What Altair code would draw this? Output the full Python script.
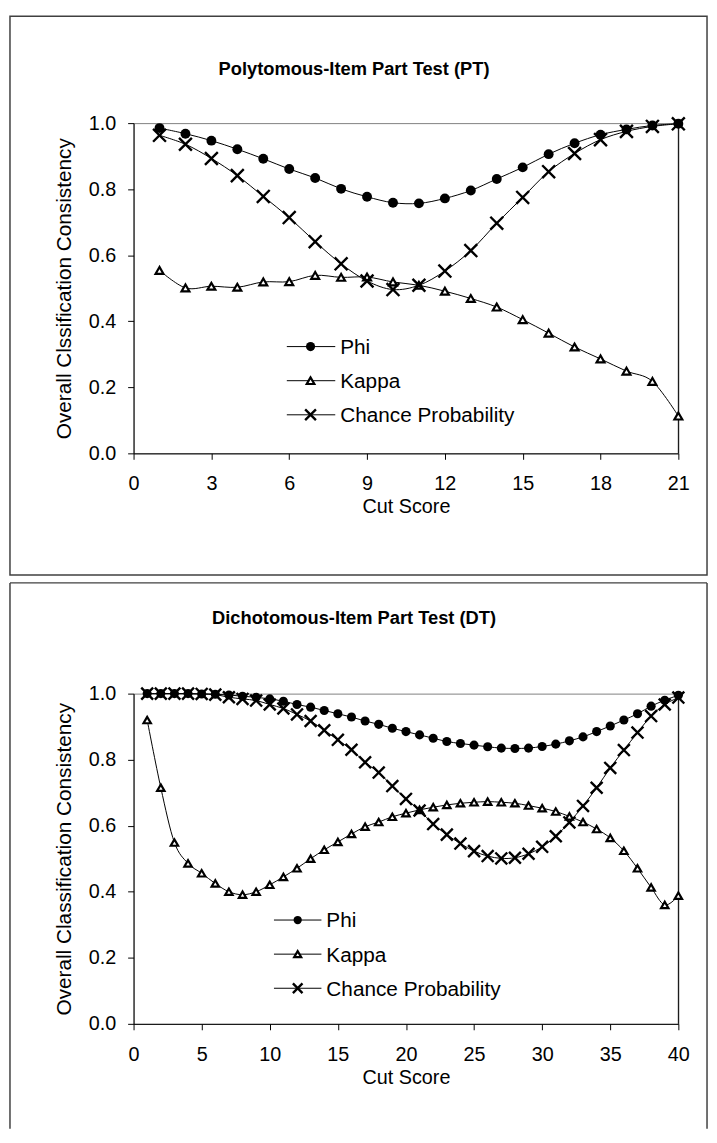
import altair as alt
import pandas as pd

FONT = "Liberation Sans"
series_names = ["Phi", "Kappa", "Chance Probability"]
yticks = [0.0, 0.2, 0.4, 0.6, 0.8, 1.0]

# ---- Polytomous-Item Part Test (PT)
pt_title = "Polytomous-Item Part Test (PT)"
pt_ytitle = "Overall Clssification Consistency"
pt_cut = list(range(1, 22))
pt_xticks = [0, 3, 6, 9, 12, 15, 18, 21]
pt_phi = [0.985, 0.968, 0.947, 0.921, 0.892, 0.861, 0.834, 0.801, 0.777, 0.759, 0.757,
          0.772, 0.796, 0.831, 0.866, 0.906, 0.939, 0.965, 0.981, 0.993, 0.998]
pt_kappa = [0.554, 0.501, 0.506, 0.503, 0.519, 0.520, 0.539, 0.533, 0.534, 0.519, 0.509,
            0.491, 0.469, 0.443, 0.405, 0.364, 0.322, 0.286, 0.249, 0.218, 0.113]
pt_chance = [0.963, 0.936, 0.893, 0.841, 0.778, 0.714, 0.641, 0.574, 0.522, 0.496, 0.509,
             0.552, 0.614, 0.697, 0.775, 0.853, 0.908, 0.950, 0.975, 0.990, 0.998]

# ---- Dichotomous-Item Part Test (DT)
dt_title = "Dichotomous-Item Part Test (DT)"
dt_ytitle = "Overall Classification Consistency"
dt_cut = list(range(1, 41))
dt_xticks = [0, 5, 10, 15, 20, 25, 30, 35, 40]
dt_phi = [1.0, 1.0, 1.0, 1.0, 0.999, 0.998, 0.996, 0.992, 0.989, 0.984,
          0.977, 0.967, 0.959, 0.949, 0.939, 0.929, 0.917, 0.907, 0.895, 0.885,
          0.875, 0.865, 0.855, 0.849, 0.844, 0.839, 0.835, 0.834, 0.835, 0.840,
          0.847, 0.857, 0.869, 0.885, 0.902, 0.920, 0.939, 0.962, 0.980, 0.995]
dt_kappa = [0.920, 0.715, 0.549, 0.486, 0.456, 0.425, 0.400, 0.391, 0.400, 0.421,
            0.445, 0.471, 0.500, 0.527, 0.551, 0.575, 0.597, 0.611, 0.627, 0.638,
            0.648, 0.656, 0.663, 0.668, 0.671, 0.673, 0.671, 0.668, 0.661, 0.653,
            0.643, 0.628, 0.611, 0.590, 0.563, 0.524, 0.471, 0.413, 0.360, 0.388]
dt_chance = [1.0, 1.0, 1.0, 1.0, 0.999, 0.997, 0.989, 0.984, 0.979, 0.967,
             0.955, 0.937, 0.917, 0.889, 0.860, 0.830, 0.792, 0.761, 0.720, 0.681,
             0.646, 0.605, 0.573, 0.546, 0.523, 0.508, 0.501, 0.503, 0.515, 0.536,
             0.568, 0.610, 0.660, 0.715, 0.775, 0.829, 0.882, 0.932, 0.967, 0.988]

XPATH = "M-1,-1L1,1M-1,1L1,-1"
W, H = 551, 334


def one(text):
    return pd.DataFrame({"t": [text]})


def panel(title, ytitle, cut, phi, kappa, chance, xticks, xmax,
          circ, tri, xs, leg, title_xy, box_top, box_bottom, closed):
    df = pd.DataFrame({
        "cut": cut * 3,
        "value": phi + kappa + chance,
        "series": [series_names[0]] * len(cut) + [series_names[1]] * len(cut)
        + [series_names[2]] * len(cut),
    })
    x = alt.X("cut:Q", scale=alt.Scale(domain=[0, xmax], nice=False, zero=False),
              axis=alt.Axis(values=xticks, tickSize=6, labelFontSize=20, labelFont=FONT,
                            labelBaseline="alphabetic", labelPadding=31, labelFlush=False,
                            labelOverlap=False, title="Cut Score", titleFontSize=20,
                            titleFont=FONT, titleFontWeight="normal", titleY=60,
                            titleBaseline="alphabetic"))
    y = alt.Y("value:Q", scale=alt.Scale(domain=[0, 1], nice=False),
              axis=alt.Axis(values=yticks, format=".1f", tickSize=6, labelFontSize=20,
                            labelFont=FONT, labelPadding=12, labelOverlap=False,
                            title=ytitle, titleFontSize=21, titleFont=FONT,
                            titleFontWeight="normal", titleX=-64, titleY=H / 2,
                            titleAngle=270, titleAlign="center",
                            titleBaseline="alphabetic"))
    base = alt.Chart(df).encode(x=x, y=y)
    lines = base.mark_line(color="black", strokeWidth=1, interpolate="cardinal").encode(
        detail="series:N")
    p_phi = base.transform_filter(alt.datum.series == series_names[0]).mark_point(
        shape="circle", filled=True, color="black", size=circ, opacity=1)
    p_kap = base.transform_filter(alt.datum.series == series_names[1]).mark_point(
        shape="triangle-up", fill="white", stroke="black", strokeWidth=2.2, size=tri,
        opacity=1, fillOpacity=1)
    p_chc = base.transform_filter(alt.datum.series == series_names[2]).mark_point(
        shape=XPATH, filled=False, stroke="black", strokeWidth=2.4, size=xs, opacity=1)

    layers = []
    # outer frame
    if closed:
        layers.append(alt.Chart(one("")).mark_rect(fillOpacity=0, stroke="#404040",
                                                   strokeWidth=1.5).encode(
            x=alt.value(-125), x2=alt.value(580), y=alt.value(box_top), y2=alt.value(box_bottom)))
    else:
        frame = alt.Chart(one("")).mark_rule(color="#404040", strokeWidth=1.5)
        layers.append(frame.encode(x=alt.value(-125), x2=alt.value(580), y=alt.value(box_top)))
        layers.append(frame.encode(x=alt.value(-125), y=alt.value(box_top), y2=alt.value(box_bottom)))
        layers.append(frame.encode(x=alt.value(580), y=alt.value(box_top), y2=alt.value(box_bottom)))
    # right border of plot area
    layers.append(alt.Chart(one("")).mark_rule(color="black", strokeWidth=1).encode(
        x=alt.value(W), y=alt.value(0), y2=alt.value(H)))
    layers += [lines, p_phi, p_kap, p_chc]

    # legend
    lx0, lx1, lxc, tx, ly0, dy = leg
    for i, name in enumerate(series_names):
        ly = ly0 + i * dy
        layers.append(alt.Chart(one(name)).mark_rule(color="black", strokeWidth=1).encode(
            x=alt.value(lx0), x2=alt.value(lx1), y=alt.value(ly)))
        if i == 0:
            m = alt.Chart(one(name)).mark_point(shape="circle", filled=True, color="black",
                                                size=circ - 15, opacity=1)
        elif i == 1:
            m = alt.Chart(one(name)).mark_point(shape="triangle-up", fill="white",
                                                stroke="black", strokeWidth=2.2, size=tri - 5,
                                                opacity=1, fillOpacity=1)
        else:
            m = alt.Chart(one(name)).mark_point(shape=XPATH, filled=False, stroke="black",
                                                strokeWidth=2.4, size=xs - 50, opacity=1)
        layers.append(m.encode(x=alt.value(lxc), y=alt.value(ly)))
        layers.append(alt.Chart(one(name)).mark_text(
            align="left", baseline="alphabetic", fontSize=21, font=FONT, color="black").encode(
            x=alt.value(tx), y=alt.value(ly + 7.5), text="t:N"))

    # chart title
    layers.append(alt.Chart(one(title)).mark_text(
        align="center", baseline="alphabetic", fontSize=18.5, font=FONT, fontWeight="bold",
        color="black").encode(x=alt.value(title_xy[0]), y=alt.value(title_xy[1]), text="t:N"))

    return alt.layer(*layers).properties(width=W, height=H)


top = panel(pt_title, pt_ytitle, pt_cut, pt_phi, pt_kappa, pt_chance, pt_xticks, 21,
            100, 64, 169, (155, 204, 179, 209, 226, 34.5), (223, -49), -108, 457, True)
bottom = panel(dt_title, dt_ytitle, dt_cut, dt_phi, dt_kappa, dt_chance, dt_xticks, 40,
               85, 56, 144, (142, 190, 166, 195, 229, 34.5), (223, -70), -112, 440, False)

chart = alt.vconcat(top, bottom, spacing=4).properties(padding=0).configure_view(
    stroke="#808080", strokeWidth=1).configure_axis(
    domainColor="black", tickColor="black", labelColor="black", titleColor="black",
    grid=False, domainWidth=1, tickWidth=1)

chart.save("out.html", embed_options={"renderer": "svg", "actions": False})
